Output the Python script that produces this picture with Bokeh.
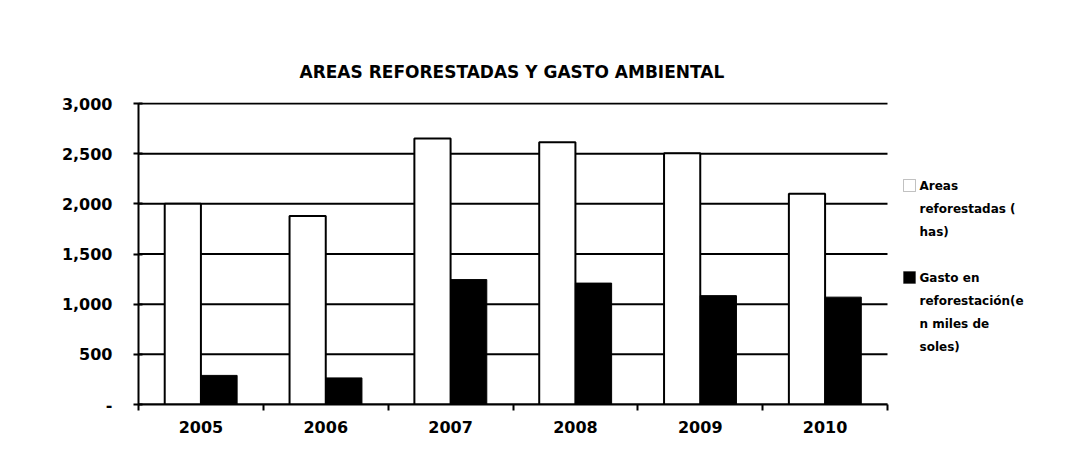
from bokeh.plotting import figure
from bokeh.models import (ColumnDataSource, FixedTicker, NumeralTickFormatter, Range1d,
                          Label, BoxAnnotation, Title)
from bokeh.transform import dodge
from bokeh.embed import file_html
from bokeh.resources import INLINE

years = [2005, 2006, 2007, 2008, 2009, 2010]
areas = [2000, 1880, 2650, 2615, 2505, 2100]
gasto = [290, 265, 1245, 1210, 1085, 1070]
y_ticks = [0, 500, 1000, 1500, 2000, 2500, 3000]
legend_areas = ["Areas", "reforestadas  (", "has)"]
legend_gasto = ["Gasto en", "reforestación(e", "n miles de", "soles)"]
title_text = "AREAS REFORESTADAS Y GASTO AMBIENTAL"

src = ColumnDataSource(dict(year=years, areas=areas, gasto=gasto))

FONT = "DejaVu Sans"
X0, X1 = 2004.5, 2010.5
# frame spans to the right edge so the legend can sit inside it; chart area stays 749 px wide
X_END = X0 + (X1 - X0) * 951 / 749

p = figure(width=1089, height=451, output_backend="svg", toolbar_location=None,
           x_range=Range1d(X0, X_END), y_range=Range1d(0, 3010),
           min_border_left=138, min_border_right=0, min_border_top=102, min_border_bottom=47)
p.outline_line_color = None
p.background_fill_color = "white"

t = Title(text=title_text, align="left", offset=161, standoff=41,
          text_font=FONT, text_font_size="17px", text_font_style="bold", text_color="black")
p.title = t

# horizontal grid lines limited to the chart area
p.segment(x0=X0, x1=X1, y0=y_ticks, y1=y_ticks, line_color="black", line_width=2)

r1 = p.vbar(x=dodge("year", -0.145), top="areas", width=0.29, source=src,
            fill_color="white", line_color="black", line_width=2)
r2 = p.vbar(x=dodge("year", 0.145), top="gasto", width=0.29, source=src,
            fill_color="black", line_color="black", line_width=1)

p.xgrid.visible = False
p.ygrid.visible = False

xa = p.xaxis[0]
xa.bounds = (X0, X1)
xa.ticker = FixedTicker(ticks=years, minor_ticks=[y + 0.5 for y in [2004] + years])
xa.formatter = NumeralTickFormatter(format="0")
xa.major_tick_in = 0
xa.major_tick_out = 0
xa.minor_tick_in = 0
xa.minor_tick_out = 6
xa.minor_tick_line_color = "black"
xa.minor_tick_line_width = 2
xa.axis_line_color = "black"
xa.axis_line_width = 2
xa.major_label_standoff = 10
xa.major_label_text_font = FONT
xa.major_label_text_font_style = "bold"
xa.major_label_text_font_size = "16px"
xa.major_label_text_color = "black"

ya = p.yaxis[0]
ya.bounds = (0, 3000)
ya.ticker = FixedTicker(ticks=y_ticks)
ya.formatter = NumeralTickFormatter(format="0,0")
ya.major_label_overrides = {0: "-"}
ya.major_tick_in = 4
ya.major_tick_out = 5
ya.major_tick_line_width = 2
ya.minor_tick_line_color = None
ya.axis_line_color = "black"
ya.axis_line_width = 2
ya.major_label_standoff = 21
ya.major_label_text_font = FONT
ya.major_label_text_font_style = "bold"
ya.major_label_text_font_size = "16px"
ya.major_label_text_color = "black"

# legend (screen units, relative to the frame's bottom-left)
p.add_layout(BoxAnnotation(left=765, right=777, bottom=213, top=225,
                           left_units="screen", right_units="screen",
                           bottom_units="screen", top_units="screen",
                           fill_color="white", fill_alpha=1, line_color="#333333", line_width=1))
p.add_layout(BoxAnnotation(left=765, right=777, bottom=121, top=133,
                           left_units="screen", right_units="screen",
                           bottom_units="screen", top_units="screen",
                           fill_color="black", fill_alpha=1, line_color="black", line_width=1))

def add_lines(lines, y_first):
    for i, s in enumerate(lines):
        p.add_layout(Label(x=781, y=y_first - 23 * i, x_units="screen", y_units="screen",
                           text=s, text_font=FONT, text_font_style="bold", text_font_size="12px",
                           text_color="black", text_baseline="middle", text_align="left"))

add_lines(legend_areas, 219)
add_lines(legend_gasto, 127)

open("out.html", "w").write(file_html(p, INLINE))
